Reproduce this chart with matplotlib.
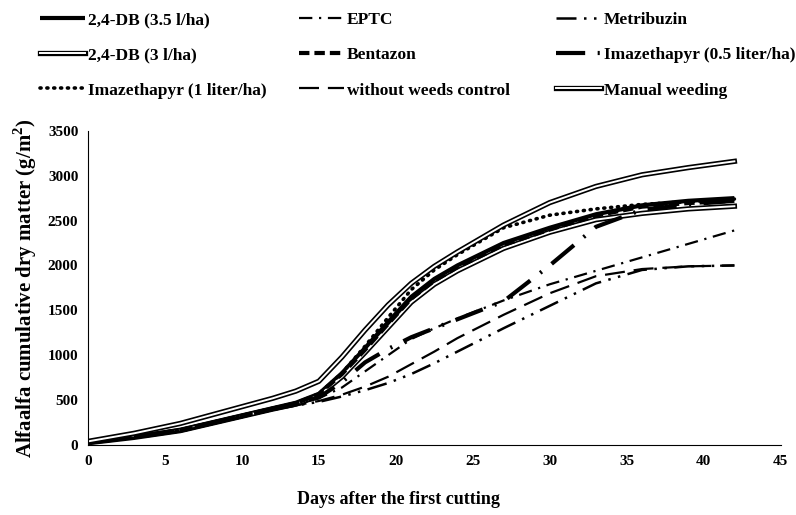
import numpy as np
import matplotlib
matplotlib.use('Agg')
import matplotlib.pyplot as plt
import matplotlib.patheffects as pe

plt.rcParams['font.family'] = ['Liberation Serif', 'DejaVu Serif']
plt.rcParams['font.weight'] = 'bold'
plt.rcParams['mathtext.fontset'] = 'custom'
plt.rcParams['mathtext.bf'] = 'Liberation Serif:bold'

days = [0, 3, 6, 9, 12, 13.5, 15, 16.5, 18, 19.5, 21, 22.5, 24, 27, 30, 33, 36, 39, 42]

manual    = [40, 130, 240, 380, 520, 600, 710, 980, 1280, 1560, 1800, 1990, 2150, 2450, 2700, 2880, 3010, 3090, 3160]
db35      = [30, 90, 170, 290, 410, 470, 570, 800, 1080, 1370, 1650, 1850, 2000, 2250, 2420, 2570, 2670, 2720, 2750]
bentazon  = [30, 90, 165, 285, 405, 465, 565, 790, 1060, 1350, 1630, 1830, 1980, 2230, 2400, 2555, 2655, 2695, 2720]
db3       = [25, 85, 160, 280, 400, 455, 550, 760, 1030, 1310, 1590, 1790, 1940, 2190, 2370, 2510, 2580, 2630, 2660]
imaz1     = [25, 85, 160, 280, 400, 460, 570, 800, 1100, 1420, 1730, 1950, 2120, 2420, 2560, 2630, 2680, 2710, 2740]
eptc      = [20, 80, 150, 270, 390, 450, 520, 640, 820, 1000, 1180, 1300, 1410, 1610, 1790, 1940, 2090, 2240, 2390]
imaz05    = [25, 85, 160, 280, 400, 460, 530, 700, 920, 1070, 1200, 1300, 1400, 1600, 2000, 2430, 2620, 2680, 2720]
nocontrol = [20, 80, 150, 270, 390, 440, 490, 560, 650, 760, 900, 1040, 1190, 1450, 1690, 1880, 1960, 1990, 2000]
metri     = [20, 80, 150, 270, 390, 440, 480, 540, 610, 690, 790, 910, 1040, 1300, 1550, 1800, 1950, 1990, 2000]

labels = ['2,4-DB (3.5 l/ha)', '2,4-DB (3 l/ha)', 'Imazethapyr (1 liter/ha)',
          'EPTC', 'Bentazon', 'without weeds control',
          'Metribuzin', 'Imazethapyr (0.5 liter/ha)', 'Manual weeding']

dbl = [pe.Stroke(linewidth=3.8, foreground='black'), pe.Normal()]

fig = plt.figure(figsize=(7.96, 5.15), dpi=100)
ax = fig.add_axes([0.1106, 0.136, 0.870, 0.61])

h = []
h += ax.plot(days, db35, color='black', lw=3, solid_capstyle='butt')
h += ax.plot(days, db3, color='white', lw=1.4, path_effects=dbl)
h += ax.plot(days, imaz1, color='black', lw=2.6, linestyle=(0, (0.3, 1.6)), dash_capstyle='round')
h += ax.plot(days, eptc, color='black', lw=1.6, linestyle=(0, (6, 3, 1, 3)))
h += ax.plot(days, bentazon, color='black', lw=3, linestyle=(0, (2.5, 1.2)))
h += ax.plot(days, nocontrol, color='black', lw=1.6, linestyle=(0, (9, 4)))
h += ax.plot(days, metri, color='black', lw=1.8, linestyle=(0, (8, 3, 1, 3, 1, 3)))
h += ax.plot(days, imaz05, color='black', lw=3, linestyle=(0, (7, 3, 0.5, 3)))
h += ax.plot(days, manual, color='white', lw=1.4, path_effects=dbl)

ax.set_xlim(0, 45)
ax.set_ylim(0, 3500)
ax.set_xticks(np.arange(0, 46, 5))
ax.set_yticks(np.arange(0, 3501, 500))
ax.tick_params(length=0, labelsize=11, pad=7)
for lab in ax.get_xticklabels() + ax.get_yticklabels():
    lab.set_fontweight('bold')
for s in ['top', 'right']:
    ax.spines[s].set_visible(False)

ax.set_ylabel('Alfaalfa cumulative dry matter (g/m$^\\mathbf{2}$)', fontsize=15, fontweight='bold', labelpad=6)
fig.text(0.5, 0.03, 'Days after the first cutting', ha='center', va='center', fontsize=13, fontweight='bold')

# three legend columns placed like the Excel layout
col_x = [35 / 796, 294 / 796, 551 / 796]
for i, x0 in enumerate(col_x):
    fig.legend(h[3 * i:3 * i + 3], labels[3 * i:3 * i + 3], loc='upper left',
               bbox_to_anchor=(x0, 0.987), borderaxespad=0, borderpad=0.3,
               frameon=False, handlelength=2.6, handletextpad=0.15,
               labelspacing=1.1, prop={'weight': 'bold', 'size': 12.5})

fig.savefig('out.png', dpi=100)
